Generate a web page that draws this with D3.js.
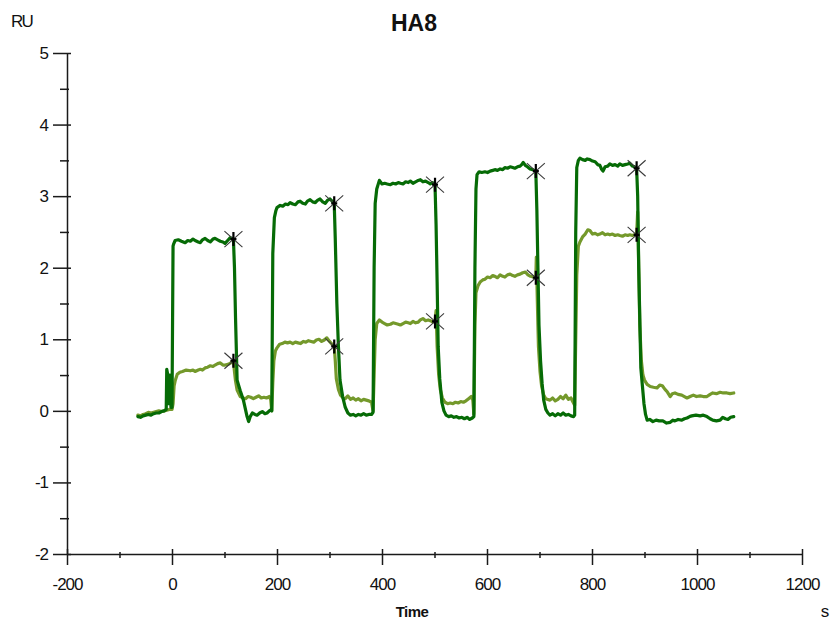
<!DOCTYPE html>
<html>
<head>
<meta charset="utf-8">
<script src="https://cdn.jsdelivr.net/npm/d3@7/dist/d3.min.js"></script>
<style>
  html, body { margin: 0; padding: 0; background: #fff; }
  svg { display: block; }
  text { font-family: "Liberation Sans", Arial, sans-serif; }
</style>
</head>
<body>
<svg id="chart" width="832" height="628"></svg>
<script>
// Sensorgram HA8: two response traces (RU) against time (s), five injections
const chartTitle = "HA8";
const xLabel = "Time";
const xUnit = "s";
const yUnit = "RU";

const xTicks = [-200, 0, 200, 400, 600, 800, 1000, 1200];
const yTicks = [-2, -1, 0, 1, 2, 3, 4, 5];

// injection end times, marked with a cross on each trace
const markerTimes = [117, 309, 501, 693, 885];

// higher-response trace: [time, RU]
const darkTrace = [
  [-65,-0.08],[-60,-0.09],[-55,-0.07],[-50,-0.06],[-45,-0.05],[-40,-0.06],[-35,-0.04],[-30,-0.03],
  [-25,-0.03],[-20,-0.01],[-15,0.0],[-11,0.02],[-10,0.58],[-8,0.5],[-6,0.1],[-4,0.5],[-2,0.05],[0,0.05],
  [2,2.3],[3,2.33],[6,2.38],[12,2.39],[18,2.37],[25,2.35],[30,2.38],[35,2.37],[40,2.4],[44,2.38],
  [50,2.36],[54,2.35],[58,2.39],[63,2.41],[68,2.38],[73,2.36],[78,2.4],[82,2.41],[87,2.39],[92,2.37],
  [97,2.36],[101,2.34],[106,2.38],[111,2.42],[117,2.4],
  [119,2.0],[121,1.3],[124,0.43],[130,0.28],[136,0.15],[143,-0.08],[146,-0.15],[149,-0.08],[153,-0.03],
  [158,-0.05],[162,-0.06],[167,-0.03],[172,-0.01],[177,-0.04],[181,-0.03],[187,0.01],[190,0.0],
  [192,2.2],[195,2.7],[198,2.8],[200,2.84],[206,2.87],[211,2.86],[216,2.89],[221,2.88],[225,2.91],
  [230,2.89],[235,2.88],[240,2.92],[244,2.93],[249,2.9],[254,2.89],[258,2.93],[263,2.95],[268,2.92],
  [273,2.91],[277,2.94],[282,2.96],[287,2.92],[292,2.9],[296,2.94],[301,2.96],[305,2.93],[309,2.9],
  [311,2.4],[314,1.5],[317,0.9],[320,0.43],[325,0.2],[330,0.05],[335,-0.03],[340,-0.06],[345,-0.05],
  [350,-0.07],[355,-0.05],[360,-0.06],[365,-0.04],[370,-0.06],[375,-0.05],[380,-0.05],[383,-0.02],
  [385,2.0],[387,2.9],[390,3.1],[395,3.22],[400,3.17],[405,3.18],[410,3.17],[416,3.16],[421,3.18],
  [426,3.17],[431,3.19],[435,3.18],[440,3.17],[445,3.2],[450,3.19],[454,3.21],[459,3.18],[464,3.2],
  [469,3.22],[473,3.23],[478,3.2],[483,3.21],[488,3.19],[492,3.17],[496,3.19],[501,3.16],
  [503,2.6],[505,1.8],[507,0.9],[510,0.45],[514,0.12],[518,0.0],[522,-0.06],[527,-0.08],[532,-0.07],
  [537,-0.09],[542,-0.08],[547,-0.1],[552,-0.09],[557,-0.11],[562,-0.09],[567,-0.12],[572,-0.1],[575,-0.08],
  [577,2.0],[579,3.1],[581,3.3],[585,3.34],[590,3.33],[596,3.34],[601,3.33],[606,3.35],[611,3.36],
  [615,3.37],[620,3.36],[625,3.38],[630,3.37],[634,3.4],[639,3.39],[644,3.41],[649,3.4],[653,3.39],
  [658,3.41],[663,3.42],[666,3.44],[669,3.47],[673,3.43],[677,3.41],[682,3.38],[687,3.37],[693,3.35],
  [695,2.8],[697,2.0],[699,1.2],[702,0.7],[705,0.38],[708,0.15],[712,0.02],[716,-0.03],[720,-0.06],
  [725,-0.04],[730,-0.07],[735,-0.04],[740,-0.06],[745,-0.03],[750,-0.06],[755,-0.05],[760,-0.07],
  [765,-0.08],[767,-0.06],
  [769,2.5],[771,3.4],[774,3.5],[777,3.53],[782,3.51],[787,3.5],[791,3.52],[796,3.51],[801,3.49],
  [806,3.48],[811,3.44],[815,3.43],[818,3.38],[821,3.35],[825,3.41],[830,3.42],[834,3.45],[839,3.43],
  [844,3.44],[849,3.42],[853,3.45],[858,3.43],[863,3.44],[868,3.45],[872,3.46],[877,3.42],[881,3.41],[885,3.39],
  [887,3.0],[889,2.0],[891,1.3],[893,0.6],[896,0.35],[899,0.1],[902,-0.05],[905,-0.13],[910,-0.12],
  [916,-0.15],[922,-0.13],[928,-0.14],[935,-0.14],[942,-0.17],[949,-0.16],[954,-0.13],[958,-0.14],
  [964,-0.12],[971,-0.13],[976,-0.11],[981,-0.1],[986,-0.08],[990,-0.07],[998,-0.06],[1006,-0.07],
  [1012,-0.06],[1019,-0.08],[1025,-0.11],[1030,-0.13],[1037,-0.14],[1044,-0.13],[1049,-0.09],
  [1054,-0.11],[1059,-0.12],[1064,-0.09],[1070,-0.08]
];

// lower-response trace: [time, RU]
const oliveTrace = [
  [-65,-0.06],[-60,-0.07],[-55,-0.05],[-50,-0.04],[-45,-0.02],[-40,-0.03],[-35,-0.02],[-30,-0.01],
  [-25,0.0],[-20,-0.01],[-15,0.0],[-10,0.01],[-5,0.02],[0,0.02],
  [2,0.1],[4,0.35],[6,0.42],[10,0.51],[15,0.54],[20,0.55],[27,0.57],[35,0.56],[40,0.57],[44,0.55],
  [50,0.57],[54,0.58],[58,0.57],[63,0.6],[68,0.61],[73,0.63],[78,0.62],[82,0.64],[87,0.66],[92,0.67],
  [97,0.64],[101,0.64],[107,0.65],[112,0.67],[117,0.7],
  [119,0.55],[121,0.42],[124,0.29],[130,0.2],[136,0.18],[140,0.17],[145,0.2],[150,0.19],[155,0.17],
  [160,0.19],[165,0.21],[170,0.18],[175,0.19],[180,0.18],[185,0.2],[188,0.16],[190,0.0],
  [192,0.4],[194,0.7],[197,0.84],[200,0.88],[205,0.93],[210,0.94],[215,0.96],[220,0.95],[225,0.96],
  [230,0.94],[235,0.96],[240,0.95],[245,0.94],[250,0.97],[255,0.96],[260,0.98],[265,0.97],[270,0.96],
  [275,0.99],[280,1.0],[285,0.97],[290,0.99],[295,1.02],[300,0.97],[305,0.93],[309,0.9],
  [311,0.7],[313,0.45],[317,0.3],[321,0.22],[326,0.18],[330,0.17],[335,0.21],[340,0.16],[345,0.18],
  [350,0.15],[355,0.17],[360,0.14],[365,0.16],[370,0.15],[375,0.14],[380,0.12],[383,0.0],
  [385,0.5],[387,1.0],[390,1.22],[395,1.27],[400,1.24],[405,1.22],[410,1.2],[416,1.21],[421,1.23],
  [426,1.22],[431,1.21],[435,1.2],[440,1.22],[445,1.24],[450,1.23],[454,1.22],[459,1.25],[464,1.23],
  [469,1.24],[473,1.27],[478,1.29],[483,1.26],[488,1.27],[492,1.26],[497,1.24],[501,1.25],
  [503,1.4],[505,0.9],[508,0.5],[511,0.3],[515,0.18],[520,0.12],[525,0.1],[530,0.11],[535,0.1],
  [540,0.12],[545,0.11],[550,0.13],[555,0.12],[560,0.14],[565,0.17],[570,0.2],[573,0.15],[575,-0.05],
  [577,1.2],[579,1.65],[583,1.75],[587,1.8],[592,1.83],[596,1.84],[601,1.87],[606,1.86],[611,1.89],
  [615,1.88],[620,1.86],[625,1.9],[630,1.88],[634,1.87],[639,1.9],[644,1.91],[649,1.89],[653,1.88],
  [658,1.9],[663,1.91],[668,1.93],[673,1.94],[678,1.9],[683,1.88],[688,1.87],[693,1.86],
  [694,2.15],[696,1.5],[698,0.9],[701,0.55],[704,0.35],[708,0.22],[712,0.17],[716,0.16],[720,0.15],
  [725,0.18],[730,0.14],[735,0.16],[740,0.2],[745,0.17],[750,0.22],[755,0.16],[760,0.18],[764,0.12],[767,0.08],
  [769,1.0],[771,1.9],[774,2.3],[777,2.36],[782,2.43],[787,2.47],[792,2.53],[796,2.52],[801,2.47],
  [806,2.48],[811,2.46],[815,2.47],[820,2.49],[825,2.46],[830,2.47],[834,2.46],[839,2.47],[844,2.45],
  [849,2.46],[853,2.45],[858,2.44],[863,2.46],[868,2.45],[872,2.46],[877,2.45],[881,2.46],[885,2.46],
  [887,2.78],[889,2.0],[891,1.2],[894,0.7],[897,0.5],[900,0.43],[905,0.37],[911,0.34],[917,0.33],
  [924,0.32],[929,0.36],[934,0.35],[939,0.3],[943,0.27],[949,0.2],[953,0.24],[958,0.25],[964,0.23],
  [971,0.22],[976,0.2],[981,0.18],[987,0.2],[993,0.22],[999,0.2],[1006,0.21],[1012,0.2],[1019,0.2],
  [1025,0.23],[1030,0.25],[1037,0.24],[1044,0.26],[1050,0.25],[1057,0.25],[1063,0.24],[1070,0.25]
];

const traces = [
  { name: "low", data: oliveTrace, color: "#74992b" },
  { name: "high", data: darkTrace, color: "#066b06" }
];

const svg = d3.select("#chart");
const axisColor = "#1a1a1a";
const tickFont = "'Liberation Sans', Arial, sans-serif";
const plainNumber = d => String(d);

const x = d3.scaleLinear().domain([-200, 1200]).range([67, 802]);
const y = d3.scaleLinear().domain([-2, 5]).range([554, 53]);

// title and unit labels
svg.append("text").attr("x", 414).attr("y", 31).attr("text-anchor", "middle")
  .attr("font-size", 23).attr("font-weight", "bold").attr("fill", "#111").text(chartTitle);
svg.append("text").attr("x", 11).attr("y", 27)
  .attr("font-size", 17).attr("letter-spacing", "-1.8").attr("fill", "#111").text(yUnit);
svg.append("text").attr("x", 412).attr("y", 617).attr("text-anchor", "middle")
  .attr("font-size", 15).attr("font-weight", "bold").attr("letter-spacing", "-0.6").attr("fill", "#111").text(xLabel);
svg.append("text").attr("x", 825).attr("y", 617).attr("text-anchor", "middle")
  .attr("font-size", 17).attr("fill", "#111").text(xUnit);

// x axis: major ticks with labels, minor ticks between
const xMinor = d3.range(-100, 1200, 200);
const gxMinor = svg.append("g").attr("transform", `translate(0,${y(-2)})`)
  .call(d3.axisBottom(x).tickValues(xMinor).tickSize(4).tickFormat(""));
gxMinor.select(".domain").remove();
gxMinor.selectAll(".tick line").attr("y1", -2).attr("stroke", axisColor).attr("stroke-width", 1.5);

const gx = svg.append("g").attr("transform", `translate(0,${y(-2)})`)
  .call(d3.axisBottom(x).tickValues(xTicks).tickFormat(plainNumber)
    .tickSize(11).tickSizeOuter(0).tickPadding(13));
gx.select(".domain").attr("stroke", axisColor).attr("stroke-width", 1.5);
gx.selectAll(".tick line").attr("y1", -5).attr("stroke", axisColor).attr("stroke-width", 1.5);
gx.selectAll(".tick text").attr("font-size", 17).attr("letter-spacing", "-1").attr("fill", "#111")
  .attr("font-family", tickFont);

// y axis: major ticks with labels, minor ticks at halves
const yMinor = d3.range(-1.5, 5, 1);
const gyMinor = svg.append("g").attr("transform", `translate(${x(-200)},0)`)
  .call(d3.axisLeft(y).tickValues(yMinor).tickSize(7).tickFormat(""));
gyMinor.select(".domain").remove();
gyMinor.selectAll(".tick line").attr("x1", 2).attr("stroke", axisColor).attr("stroke-width", 1.5);

const gy = svg.append("g").attr("transform", `translate(${x(-200)},0)`)
  .call(d3.axisLeft(y).tickValues(yTicks).tickFormat(plainNumber)
    .tickSize(14).tickSizeOuter(0).tickPadding(5));
gy.select(".domain").attr("stroke", axisColor).attr("stroke-width", 1.5);
gy.selectAll(".tick line").attr("x1", 4).attr("stroke", axisColor).attr("stroke-width", 1.5);
gy.selectAll(".tick text").attr("font-size", 17).attr("letter-spacing", "-1").attr("fill", "#111")
  .attr("font-family", tickFont);

// traces
const line = d3.line().x(d => x(d[0])).y(d => y(d[1]));
svg.append("g").selectAll("path").data(traces).join("path")
  .attr("d", d => line(d.data))
  .attr("fill", "none")
  .attr("stroke", d => d.color)
  .attr("stroke-width", 3.2)
  .attr("stroke-linejoin", "round")
  .attr("stroke-linecap", "round");

// crosses at the end of each injection, placed on each trace's value there
const valueAt = (data, t) => data.find(d => d[0] === t)[1];
const markers = [];
traces.forEach(tr => markerTimes.forEach(t => markers.push([t, valueAt(tr.data, t)])));

const mk = svg.append("g").selectAll("g").data(markers).join("g")
  .attr("transform", d => `translate(${x(d[0])},${y(d[1])})`);
mk.append("path").attr("d", "M-9,-8L9,8M-9,8L9,-8")
  .attr("stroke", "#3a3a3a").attr("stroke-width", 1.1).attr("fill", "none");
mk.append("path").attr("d", "M0,-7L0,7M-3,0L3,0")
  .attr("stroke", "#000").attr("stroke-width", 2.2).attr("fill", "none");
</script>
</body>
</html>
